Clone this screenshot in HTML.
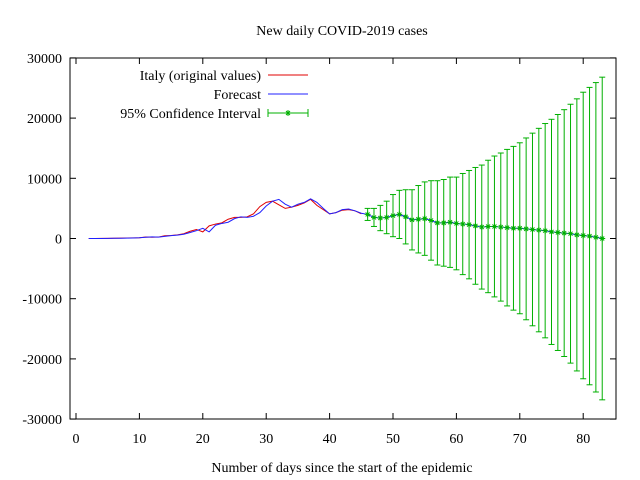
<!DOCTYPE html>
<html><head><meta charset="utf-8"><style>
body{margin:0;background:#fff}
svg{display:block;font-family:"Liberation Serif",serif;font-size:14px}
</style></head><body>
<svg id="c" width="640" height="480">
<text x="342" y="35" text-anchor="middle">New daily COVID-2019 cases</text>
<text x="342" y="472" text-anchor="middle">Number of days since the start of the epidemic</text>
<rect x="70" y="58" width="546" height="361" fill="none" stroke="#000" stroke-width="1"/>
<g id="ticks"></g>
<g id="marks"></g>
<g>
<text x="261" y="80" text-anchor="end">Italy (original values)</text>
<line x1="268" y1="75" x2="308" y2="75" stroke="#e00000"/>
<text x="261" y="99" text-anchor="end">Forecast</text>
<line x1="268" y1="94" x2="308" y2="94" stroke="#2020ff"/>
<text x="261" y="118" text-anchor="end">95% Confidence Interval</text>
<g stroke="#00b000"><line x1="268" y1="113" x2="308" y2="113"/><line x1="268" y1="109" x2="268" y2="117"/><line x1="308" y1="109" x2="308" y2="117"/><path d="M285 113h6M288 110v6M286 111l4 4M290 111l-4 4"/></g>
</g>
</svg>
<script>
const xTicks=[0,10,20,30,40,50,60,70,80];
const yTicks=[-30000,-20000,-10000,0,10000,20000,30000];
const italyDays=[2,3,4,5,6,7,8,9,10,11,12,13,14,15,16,17,18,19,20,21,22,23,24,25,26,27,28,29,30,31,32,33,34,35,36,37,38,39,40,41,42,43,44,45];
const italyValues=[0,0,20,30,40,60,80,100,130,250,200,240,450,500,600,800,1200,1500,1100,2100,2400,2600,3200,3500,3500,3600,4100,5300,6000,6200,5600,5000,5200,5500,5900,6500,5500,4800,4100,4300,4700,4800,4600,4100];
const forecastValues=[0,0,10,25,35,50,70,90,120,200,260,230,350,480,560,700,1000,1300,1700,1100,2200,2500,2700,3300,3600,3500,3700,4300,5400,6200,6500,5700,5200,5700,6000,6600,6000,5000,4100,4300,4800,4900,4600,4200];
const ciDays=[46,47,48,49,50,51,52,53,54,55,56,57,58,59,60,61,62,63,64,65,66,67,68,69,70,71,72,73,74,75,76,77,78,79,80,81,82,83];
const ciCenter=[4000,3500,3400,3500,3800,4000,3600,3100,3200,3300,3000,2600,2600,2700,2500,2400,2300,2100,1900,2000,2000,1900,1800,1700,1700,1600,1500,1400,1300,1100,1000,900,800,600,500,400,200,0];
const ciHalf=[1000,1500,2100,2700,3500,4000,4500,5000,5600,6100,6600,7000,7200,7500,7700,8400,9000,9700,10300,11000,11700,12300,13000,13600,14200,15100,16000,16900,17800,18700,19600,20500,21500,22600,23800,24700,25700,26800];
const X=v=>76+v*6.34, Y=v=>238.5-v*0.00602;
const NS='http://www.w3.org/2000/svg';
function mk(t,a,p){const e=document.createElementNS(NS,t);for(const k in a)e.setAttribute(k,a[k]);p.appendChild(e);return e;}
const tg=document.getElementById('ticks'), mg=document.getElementById('marks');
xTicks.forEach(t=>{const x=X(t);
mk('line',{x1:x,y1:419,x2:x,y2:413,stroke:'#000'},tg);
mk('line',{x1:x,y1:58,x2:x,y2:64,stroke:'#000'},tg);
const e=mk('text',{x:x,y:443,'text-anchor':'middle'},tg);e.textContent=t;

});
yTicks.forEach(t=>{const y=Y(t);
mk('line',{x1:70,y1:y,x2:76,y2:y,stroke:'#000'},tg);
mk('line',{x1:616,y1:y,x2:610,y2:y,stroke:'#000'},tg);
const e=mk('text',{x:62,y:y+5,'text-anchor':'end'},tg);e.textContent=t;

});
const r=mk('polyline',{points:italyDays.map((d,i)=>X(d)+','+Y(italyValues[i])).join(' '),fill:'none',stroke:'#e00000'},mg);


const fd=italyDays.concat(ciDays), fv=forecastValues.concat(ciCenter);
const b=mk('polyline',{points:fd.map((d,i)=>X(d)+','+Y(fv[i])).join(' '),fill:'none',stroke:'#2020ff'},mg);


ciDays.forEach((d,i)=>{const x=X(d),c=Y(ciCenter[i]),t=Y(ciCenter[i]+ciHalf[i]),bt=Y(ciCenter[i]-ciHalf[i]);
const g=mk('g',{stroke:'#00b000'},mg);


mk('line',{x1:x,y1:t,x2:x,y2:bt},g);
mk('line',{x1:x-3,y1:t,x2:x+3,y2:t},g);
mk('line',{x1:x-3,y1:bt,x2:x+3,y2:bt},g);
mk('path',{d:`M${x-3} ${c}h6M${x} ${c-3}v6M${x-2} ${c-2}l4 4M${x+2} ${c-2}l-4 4`},g);});
</script>
</body></html>
